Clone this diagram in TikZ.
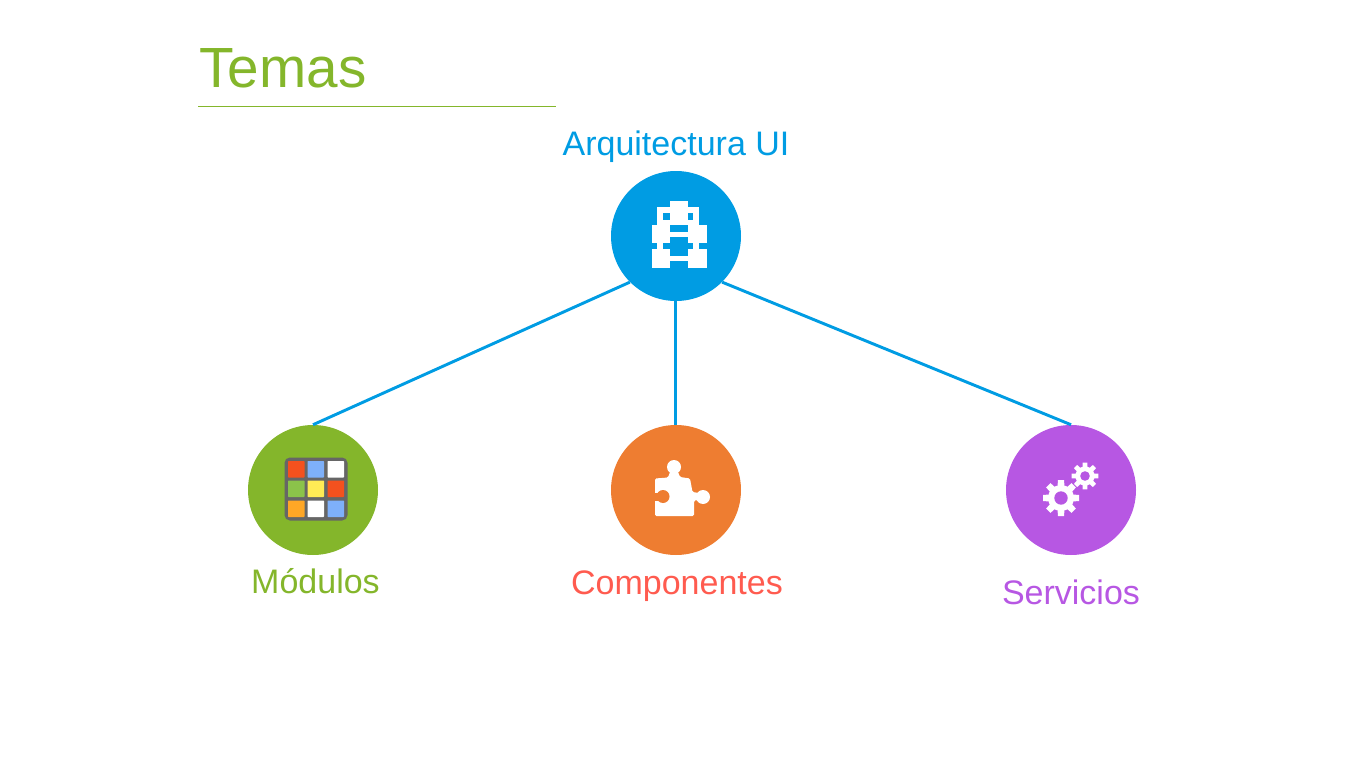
\documentclass[tikz,border=0pt]{standalone}
\usepackage{fontspec}
\setmainfont{Liberation Sans}
\definecolor{temagreen}{HTML}{84B62B}
\definecolor{temablue}{HTML}{009CE3}
\definecolor{temaorange}{HTML}{EE7D31}
\definecolor{temapurple}{HTML}{B757E3}
\definecolor{temared}{HTML}{FF5B4F}
\definecolor{gridgray}{HTML}{666666}
\tikzset{
x=0.75pt, y=-0.75pt, % one unit is one pixel of the reference
hub/.style={circle, minimum size=97.5pt, inner sep=0pt},
label text/.style={anchor=base, font=\fontsize{25.5}{30}\selectfont},
link/.style={temablue, line width=2.2pt},
cell/.style={rounded corners=0.5pt},
}
% gear: centre x, centre y, body radius, tooth radius, hole radius, colour of the hole
\newcommand{\gearicon}[6]{
	\foreach \a in {0,45,...,315}
		\fill[white, shift={(#1,#2)}, rotate=\a] (-#4*0.23,0) -- (-#4*0.17,-#4) -- (#4*0.17,-#4) -- (#4*0.23,0) -- cycle;
	\fill[white] (#1,#2) circle[radius=#3];
	\fill[#6] (#1,#2) circle[radius=#5];
}
\begin{document}
\begin{tikzpicture}
		\useasboundingbox (0,0) rectangle (1365,767);
		\node[anchor=base, text=temagreen, font=\fontsize{42.5}{50}\selectfont] (temas) at (283,88) {Temas};
		\coordinate (ruleL) at (198,106.5);
		\coordinate (ruleR) at (556,106.5);
		\draw[temagreen, line width=0.6pt] (ruleL) -- (ruleR);

		\node[hub, fill=temablue] (arq) at (676,236) {};
		\node[hub, fill=temagreen] (mod) at (313,490) {};
		\node[hub, fill=temaorange] (comp) at (676,490) {};
		\node[hub, fill=temapurple] (serv) at (1071,490) {};

		\node[label text, text=temablue] (arqtext) at (676,156) {Arquitectura UI};
		\node[label text, text=temagreen] (modtext) at (315.5,593) {Módulos};
		\node[label text, text=temared] (comptext) at (677,594) {Componentes};
		\node[label text, text=temapurple] (servtext) at (1071,604) {Servicios};

		\draw[link] (arq.225) -- (mod.north);
		\draw[link] ([xshift=-0.5pt]arq.south) -- ([xshift=-0.5pt]comp.north);
		\draw[link] (arq.-45) -- (serv.north);

		% architecture icon
		\foreach \xa/\ya/\xb/\yb in {670/201/688/220, 657/207/699/213, 657/207/663/225, 693/207/699/225,
			663/220/693/225, 652/225/670/243, 688/225/707/243, 670/232/688/237,
			657/243/663/249, 693/243/699/249, 652/249/670/268, 688/249/707/268, 670/256/688/261}
			\fill[white] (\xa,\ya) rectangle (\xb,\yb);

		% grid icon
		\fill[gridgray, rounded corners=4pt] (284.5,457.5) rectangle (347.5,520.5);
		\foreach \xa/\ya/\c in {288/461/F4511E, 307.5/461/7EB0FA, 327.5/461/FFFFFF,
			288/480.5/8BC34A, 307.5/480.5/FFEB55, 327.5/480.5/F4511E,
			288/500.5/FFA726, 307.5/500.5/FFFFFF, 327.5/500.5/7EB0FA}{
			\definecolor{cellcolor}{HTML}{\c}
			\fill[cell, cellcolor] (\xa,\ya) rectangle ++(16.5,16.5);
		}

		% puzzle icon
		\fill[white, rounded corners=1pt] (655,478.5) -- (668,477.5) -- (670,472) -- (678,472) -- (680,477) -- (690,478.5)
			-- (692.5,492) -- (699,493) -- (699,500) -- (694,500.5) -- (694,516) -- (655,516) -- cycle;
		\fill[white] (674,467) circle[radius=7];
		\fill[white] (703,497) circle[radius=7];
		\fill[temaorange] (663,496.5) circle[radius=6.5];
		\fill[temaorange] (651,492.5) rectangle (658,500.5);

		% gears icon
		\gearicon{1061}{498}{13}{18}{6.7}{temapurple}
		\gearicon{1085}{476}{9.5}{13.3}{4.8}{temapurple}
	\end{tikzpicture}
\end{document}
